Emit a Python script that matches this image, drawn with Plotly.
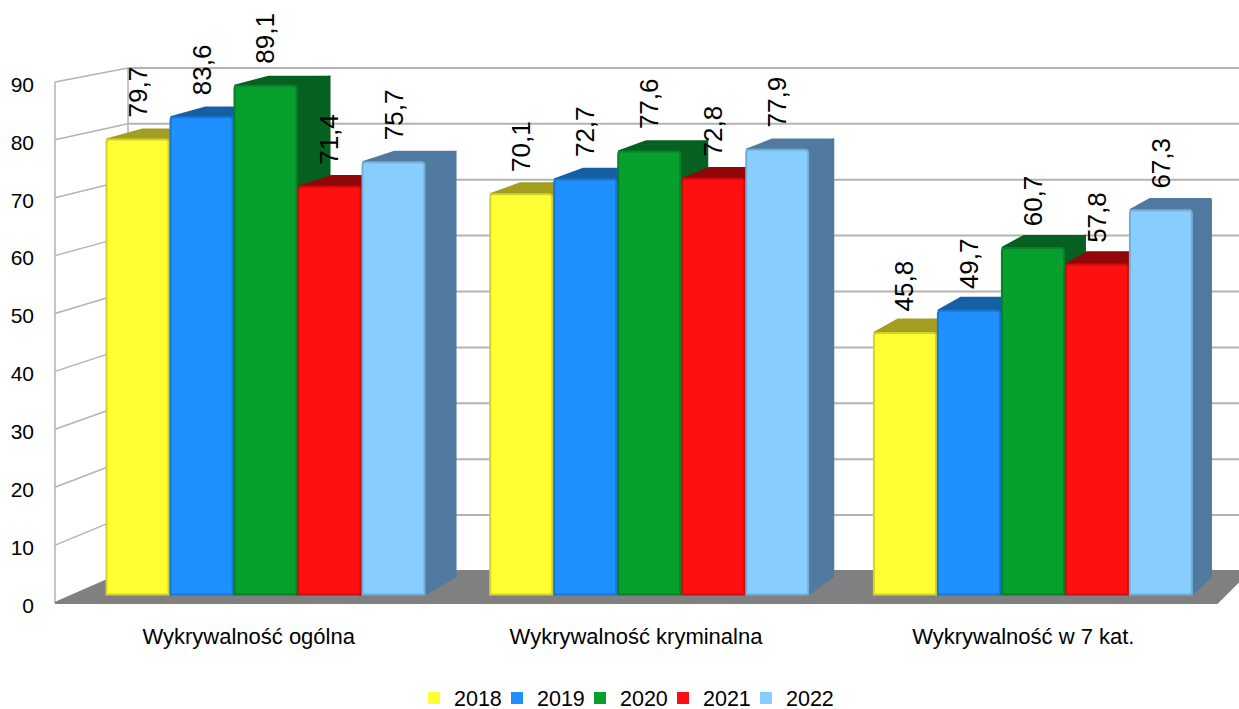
import plotly.graph_objects as go

categories = ["Wykrywalność ogólna", "Wykrywalność kryminalna", "Wykrywalność w 7 kat."]
years = ["2018", "2019", "2020", "2021", "2022"]
v2018 = [79.7, 70.1, 45.8]
v2019 = [83.6, 72.7, 49.7]
v2020 = [89.1, 77.6, 60.7]
v2021 = [71.4, 72.8, 57.8]
v2022 = [75.7, 77.9, 67.3]
series = [v2018, v2019, v2020, v2021, v2022]
y_ticks = [0, 10, 20, 30, 40, 50, 60, 70, 80, 90]

front = ["#FFFF33", "#1E90FF", "#07A02F", "#FF1010", "#87CEFF"]
edge = ["#D2D22C", "#1A78D2", "#068228", "#D00D0D", "#72AED8"]
shade = ["#A39E22", "#155FA3", "#066120", "#910707", "#507AA0"]
GRID = "#B3B3B3"
FONT = "Liberation Sans, Arial, sans-serif"
W, H = 1239, 709

# Geometry of the pseudo-3D chart box (pixels of the scene axes)
SLOT = 64.0
FACE = 62.0
GROUP_STEP = 383.7
FIRST_CENTER = 265.5
BAR_BASE = 594.5
BAR_K = 5.71
LABEL_DROP = 2.5


def bar_y(v):
    return BAR_BASE - v * BAR_K


def depth_dx(x):
    return 36 - 0.0156 * (x - 106)


def depth_dy(v):
    return 18 - 0.1 * v


fig = go.Figure()


def poly(xs, ys, color):
    fig.add_trace(go.Scatter(
        x=xs, y=ys, mode="lines", fill="toself", fillcolor=color,
        line=dict(color=color, width=2), hoverinfo="skip", showlegend=False,
        xaxis="x", yaxis="y"))


def wall_line(xs, ys, width):
    fig.add_trace(go.Scatter(
        x=xs, y=ys, mode="lines", line=dict(color=GRID, width=width),
        hoverinfo="skip", showlegend=False, xaxis="x", yaxis="y"))


# walls and floor
FX0, FX1, BX0, BX1 = 55, 1217, 128, 1249
F0, FK, B0, BK = 603, 5.79, 571, 5.59
for t in y_ticks:
    wall_line([BX0, W + 20], [B0 - t * BK, B0 - t * BK], 2)
    wall_line([FX0, BX0], [F0 - t * FK, B0 - t * BK], 1.5)
wall_line([FX0, FX0], [F0, F0 - 90 * FK], 1.5)
wall_line([BX0, BX0], [B0, B0 - 90 * BK], 1.5)
poly([FX0, FX1, BX1, BX0, FX0], [F0, F0, B0, B0, F0], "#808080")

# tops and sides of the bars
for s, vals in enumerate(series):
    for c, v in enumerate(vals):
        xm = FIRST_CENTER + c * GROUP_STEP + (s - 2) * SLOT
        xl, xr = xm - FACE / 2, xm + FACE / 2
        yt = bar_y(v)
        dl, dr, dy, dy0 = depth_dx(xl), depth_dx(xr), depth_dy(v), depth_dy(0)
        poly([xr, xr + dr, xr + dr, xr, xr], [yt, yt - dy, BAR_BASE - dy0, BAR_BASE, yt], shade[s])
        poly([xl, xl + dl, xr + dr, xr, xl], [yt, yt - dy, yt - dy, yt, yt], shade[s])

# front faces of the bars
for s, vals in enumerate(series):
    fig.add_trace(go.Bar(
        x=[0, 1, 2], y=vals, name=years[s], xaxis="x2", yaxis="y2", showlegend=False,
        marker=dict(color=front[s], line=dict(color=edge[s], width=2), cornerradius=3),
        hoverinfo="skip"))

# front-plane axes: carry the tick labels and the square legend keys
for s, year in enumerate(years):
    fig.add_trace(go.Bar(
        x=[None], y=[None], name=year, xaxis="x3", yaxis="y3",
        marker=dict(color=front[s], line=dict(width=0)), hoverinfo="skip"))
# blank entry: gives the last legend label room so it is not clipped
fig.add_trace(go.Bar(
    x=[None], y=[None], name=" ", xaxis="x3", yaxis="y3",
    marker=dict(color="rgba(0,0,0,0)", line=dict(width=0)), hoverinfo="skip"))

annotations = []
step_units = SLOT / GROUP_STEP
for s, vals in enumerate(series):
    for c, v in enumerate(vals):
        annotations.append(dict(
            xref="x2", yref="y2", x=c + (s - 2) * step_units, y=v,
            text=f"{v:.1f}".replace(".", ","), textangle=-90, showarrow=False,
            yanchor="bottom", xanchor="center", yshift=20,
            font=dict(family=FONT, size=26, color="#000000")))

fig.update_layout(
    width=W, height=H, autosize=False,
    margin=dict(l=0, r=0, t=0, b=0, autoexpand=False),
    paper_bgcolor="#FFFFFF", plot_bgcolor="rgba(0,0,0,0)",
    barmode="group", bargap=1 - 5 * SLOT / GROUP_STEP, bargroupgap=1 - FACE / SLOT,
    font=dict(family=FONT, size=20, color="#000000"),
    xaxis=dict(domain=[0, 1], range=[0, W], visible=False),
    yaxis=dict(domain=[0, 1], range=[H, 0], visible=False),
    xaxis2=dict(domain=[0, 1], overlaying="x", anchor="y2", visible=False,
                range=[-FIRST_CENTER / GROUP_STEP, (W - FIRST_CENTER) / GROUP_STEP]),
    yaxis2=dict(domain=[0, 1], overlaying="y", anchor="x2", visible=False,
                range=[(BAR_BASE - H) / BAR_K, BAR_BASE / BAR_K]),
    xaxis3=dict(domain=[FX0 / W, FX1 / W], anchor="y3",
                range=[-0.5, 2.5], tickmode="array", tickvals=[0, 1, 2], ticktext=categories,
                showgrid=False, zeroline=False, showline=False, ticks="",
                ticklabelstandoff=15, tickfont=dict(family=FONT, size=22, color="#000000")),
    yaxis3=dict(domain=[1 - (F0 + LABEL_DROP) / H, 1 - (F0 + LABEL_DROP - 90 * FK) / H], anchor="x3",
                range=[0, 90], tickmode="array", tickvals=y_ticks,
                showgrid=False, zeroline=False, showline=False, ticks="",
                ticklabelstandoff=20, tickfont=dict(family=FONT, size=21, color="#000000")),
    legend=dict(orientation="h", x=414 / W, xanchor="left", y=1 - 698 / H, yanchor="middle",
                entrywidth=38, entrywidthmode="pixels", traceorder="normal",
                font=dict(family=FONT, size=21.5, color="#000000"), bgcolor="rgba(0,0,0,0)"),
    annotations=annotations,
    showlegend=True,
)

fig.write_html("out.html", config={"displayModeBar": False},
               post_script="document.body.style.margin='0';")
